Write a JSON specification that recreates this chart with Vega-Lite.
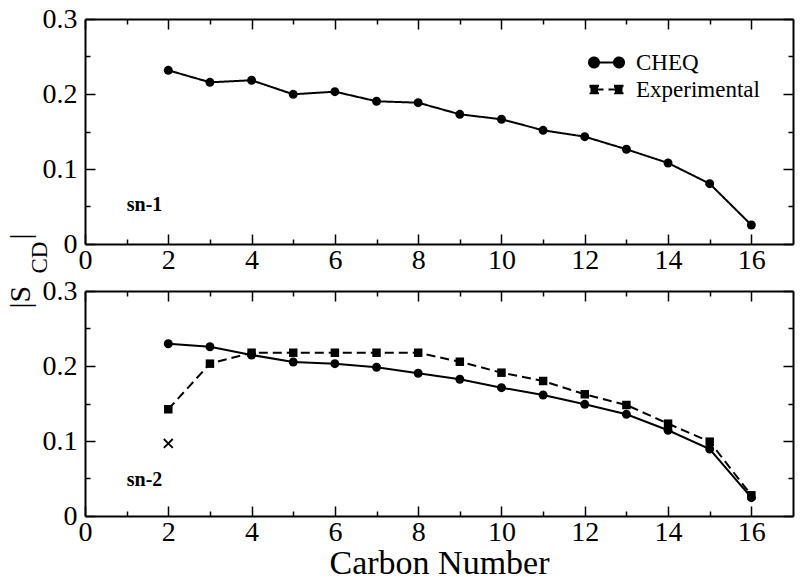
{
  "$schema": "https://vega.github.io/schema/vega-lite/v6.json",
  "background": "white",
  "padding": 5,
  "config": {
    "view": {"stroke": null},
    "font": "Liberation Serif",
    "axis": {
      "grid": false,
      "domainColor": "black",
      "domainWidth": 2,
      "tickColor": "black",
      "tickWidth": 1.5,
      "labelFont": "Liberation Serif",
      "labelFontSize": 28,
      "labelColor": "black",
      "labelFlush": false,
      "labelOverlap": false,
      "labelPadding": 16,
      "titleFont": "Liberation Serif",
      "titleColor": "black",
      "titleFontWeight": "normal"
    }
  },
  "datasets": {
    "sn1": [
      {"series": "CHEQ", "carbon": 2, "s": 0.2316},
      {"series": "CHEQ", "carbon": 3, "s": 0.2156},
      {"series": "CHEQ", "carbon": 4, "s": 0.2183},
      {"series": "CHEQ", "carbon": 5, "s": 0.1996},
      {"series": "CHEQ", "carbon": 6, "s": 0.2031},
      {"series": "CHEQ", "carbon": 7, "s": 0.1903},
      {"series": "CHEQ", "carbon": 8, "s": 0.1884},
      {"series": "CHEQ", "carbon": 9, "s": 0.1729},
      {"series": "CHEQ", "carbon": 10, "s": 0.1663},
      {"series": "CHEQ", "carbon": 11, "s": 0.1516},
      {"series": "CHEQ", "carbon": 12, "s": 0.1431},
      {"series": "CHEQ", "carbon": 13, "s": 0.1263},
      {"series": "CHEQ", "carbon": 14, "s": 0.108},
      {"series": "CHEQ", "carbon": 15, "s": 0.0804},
      {"series": "CHEQ", "carbon": 16, "s": 0.0253}
    ],
    "sn2": [
      {"series": "CHEQ", "carbon": 2, "s": 0.2297},
      {"series": "CHEQ", "carbon": 3, "s": 0.2257},
      {"series": "CHEQ", "carbon": 4, "s": 0.2147},
      {"series": "CHEQ", "carbon": 5, "s": 0.2053},
      {"series": "CHEQ", "carbon": 6, "s": 0.2031},
      {"series": "CHEQ", "carbon": 7, "s": 0.1983},
      {"series": "CHEQ", "carbon": 8, "s": 0.1903},
      {"series": "CHEQ", "carbon": 9, "s": 0.1823},
      {"series": "CHEQ", "carbon": 10, "s": 0.1711},
      {"series": "CHEQ", "carbon": 11, "s": 0.1613},
      {"series": "CHEQ", "carbon": 12, "s": 0.1489},
      {"series": "CHEQ", "carbon": 13, "s": 0.1356},
      {"series": "CHEQ", "carbon": 14, "s": 0.1143},
      {"series": "CHEQ", "carbon": 15, "s": 0.0893},
      {"series": "CHEQ", "carbon": 16, "s": 0.0244},
      {"series": "Experimental", "carbon": 2, "s": 0.1423},
      {"series": "Experimental", "carbon": 3, "s": 0.2031},
      {"series": "Experimental", "carbon": 4, "s": 0.2177},
      {"series": "Experimental", "carbon": 5, "s": 0.2177},
      {"series": "Experimental", "carbon": 6, "s": 0.2177},
      {"series": "Experimental", "carbon": 7, "s": 0.2177},
      {"series": "Experimental", "carbon": 8, "s": 0.2177},
      {"series": "Experimental", "carbon": 9, "s": 0.2057},
      {"series": "Experimental", "carbon": 10, "s": 0.1911},
      {"series": "Experimental", "carbon": 11, "s": 0.18},
      {"series": "Experimental", "carbon": 12, "s": 0.1623},
      {"series": "Experimental", "carbon": 13, "s": 0.148},
      {"series": "Experimental", "carbon": 14, "s": 0.1231},
      {"series": "Experimental", "carbon": 15, "s": 0.0991},
      {"series": "Experimental", "carbon": 16, "s": 0.0276},
      {"series": "Experimental C2 second deuteron", "carbon": 2, "s": 0.0967}
    ]
  },
  "spacing": 47,
  "bounds": "flush",
  "vconcat": [
    {
      "width": 708,
      "height": 225,
      "data": {"name": "sn1"},
      "resolve": {"axis": {"x": "independent", "y": "independent"}},
      "layer": [
        {
          "mark": {"type": "line", "color": "black", "strokeWidth": 2},
          "encoding": {
            "x": {"field": "carbon", "type": "quantitative", "scale": {"domain": [0, 17], "nice": false},
              "axis": {"orient": "bottom", "values": [0,1,2,3,4,5,6,7,8,9,10,11,12,13,14,15,16],
                "tickSize": {"condition": {"test": "datum.value % 2 === 0", "value": -10}, "value": -5},
                "labelExpr": "datum.value % 2 === 0 ? datum.label : ''",
                "labelFont": "Liberation Serif", "labelFontSize": 28, "labelColor": "black", "labelPadding": 12,
                "title": "|", "titleFont": "Liberation Serif", "titleFontSize": 30, "titleAngle": 270, "titleAlign": "left", "titleBaseline": "alphabetic",
                "titleX": -56, "titleY": -5}},
            "y": {"field": "s", "type": "quantitative", "scale": {"domain": [0, 0.3], "nice": false},
              "axis": {"orient": "left", "values": [0, 0.05, 0.1, 0.15, 0.2, 0.25, 0.3],
                "tickSize": {"condition": {"test": "round(datum.value * 100) % 10 === 0", "value": -10}, "value": -5},
                "labelExpr": "round(datum.value * 100) % 10 === 0 ? (datum.value === 0 ? '0' : format(datum.value, '.1f')) : ''",
                "labelFont": "Liberation Serif", "labelFontSize": 28, "labelColor": "black", "labelPadding": 18,
                "title": "|S", "titleFont": "Liberation Serif", "titleFontSize": 30, "titleAngle": 270, "titleAlign": "left", "titleBaseline": "alphabetic",
                "titleX": -56, "titleY": 289}},
            "strokeDash": {"field": "series", "type": "nominal",
              "scale": {"domain": ["CHEQ", "Experimental"], "range": [[1, 0], [9, 5]]},
              "legend": {"orient": "none", "legendX": 510, "legendY": 32, "title": null, "padding": 0,
                "labelFont": "Liberation Serif", "labelFontSize": 23, "labelColor": "black", "labelOffset": 18,
                "rowPadding": 3, "symbolSize": 100, "symbolStrokeWidth": 2, "symbolFillColor": "black", "symbolStrokeColor": "black",
                "encode": {"symbols": {"update": {
                  "shape": {"signal": "datum.value === 'CHEQ' ? 'M-3.5,0A1,1,0,1,1,-1.5,0A1,1,0,1,1,-3.5,0Z M1.5,0A1,1,0,1,1,3.5,0A1,1,0,1,1,1.5,0Z M-2.5,0L2.5,0' : 'M-3.2,-0.75L-1.7,-0.75L-1.7,0.75L-3.2,0.75Z M1.7,-0.75L3.2,-0.75L3.2,0.75L1.7,0.75Z M-1.7,0L-0.6,0 M0.4,0L1.7,0'"},
                  "fill": {"value": "black"},
                  "stroke": {"value": "black"},
                  "strokeWidth": {"value": 2},
                  "size": {"value": 100},
                  "opacity": {"value": 1}
                }}}
              }
            }
          }
        },
        {
          "mark": {"type": "point", "shape": "circle", "filled": true, "color": "black", "size": 80, "opacity": 1},
          "encoding": {
            "x": {"field": "carbon", "type": "quantitative", "axis": null},
            "y": {"field": "s", "type": "quantitative", "axis": null}
          }
        },
        {
          "data": {"values": [{"label": "sn-1"}]},
          "mark": {"type": "text", "font": "Liberation Serif", "fontWeight": "bold", "fontSize": 20, "color": "black", "align": "center", "baseline": "alphabetic"},
          "encoding": {
            "text": {"field": "label"},
            "x": {"datum": 1.43, "type": "quantitative",
              "axis": {"orient": "top", "values": [0,1,2,3,4,5,6,7,8,9,10,11,12,13,14,15,16],
                "tickSize": {"condition": {"test": "datum.value % 2 === 0", "value": -10}, "value": -5},
                "labels": false, "title": null}},
            "y": {"datum": 0.044, "type": "quantitative",
              "axis": {"orient": "right", "values": [0, 0.05, 0.1, 0.15, 0.2, 0.25, 0.3],
                "tickSize": {"condition": {"test": "round(datum.value * 100) % 10 === 0", "value": -10}, "value": -5},
                "labels": false, "title": null}}
          }
        }
      ]
    },
    {
      "width": 708,
      "height": 225,
      "data": {"name": "sn2"},
      "resolve": {"axis": {"x": "independent", "y": "independent"}},
      "layer": [
        {
          "transform": [{"filter": "datum.series === 'Experimental'"}],
          "mark": {"type": "line", "color": "black", "strokeWidth": 2, "strokeDash": [9, 5]},
          "encoding": {
            "x": {"field": "carbon", "type": "quantitative", "scale": {"domain": [0, 17], "nice": false},
              "axis": {"orient": "bottom", "values": [0,1,2,3,4,5,6,7,8,9,10,11,12,13,14,15,16],
                "tickSize": {"condition": {"test": "datum.value % 2 === 0", "value": -10}, "value": -5},
                "labelExpr": "datum.value % 2 === 0 ? datum.label : ''",
                "labelFont": "Liberation Serif", "labelFontSize": 28, "labelColor": "black", "labelPadding": 12,
                "title": "Carbon Number", "titleFont": "Liberation Serif", "titleFontSize": 34, "titleAngle": 0, "titleAlign": "center", "titleBaseline": "alphabetic",
                "titleX": 354, "titleY": 57}},
            "y": {"field": "s", "type": "quantitative", "scale": {"domain": [0, 0.3], "nice": false},
              "axis": {"orient": "left", "values": [0, 0.05, 0.1, 0.15, 0.2, 0.25, 0.3],
                "tickSize": {"condition": {"test": "round(datum.value * 100) % 10 === 0", "value": -10}, "value": -5},
                "labelExpr": "round(datum.value * 100) % 10 === 0 ? (datum.value === 0 ? '0' : format(datum.value, '.1f')) : ''",
                "labelFont": "Liberation Serif", "labelFontSize": 28, "labelColor": "black", "labelPadding": 18,
                "title": "CD", "titleFont": "Liberation Serif", "titleFontSize": 23, "titleAngle": 270, "titleAlign": "left", "titleBaseline": "alphabetic",
                "titleX": -38.5, "titleY": -18}}
          }
        },
        {
          "transform": [{"filter": "datum.series === 'Experimental'"}],
          "mark": {"type": "point", "shape": "square", "filled": true, "color": "black", "size": 72, "opacity": 1},
          "encoding": {
            "x": {"field": "carbon", "type": "quantitative", "axis": null},
            "y": {"field": "s", "type": "quantitative", "axis": null}
          }
        },
        {
          "transform": [{"filter": "datum.series === 'CHEQ'"}],
          "mark": {"type": "line", "color": "black", "strokeWidth": 2},
          "encoding": {
            "x": {"field": "carbon", "type": "quantitative", "axis": null},
            "y": {"field": "s", "type": "quantitative", "axis": null}
          }
        },
        {
          "transform": [{"filter": "datum.series === 'CHEQ'"}],
          "mark": {"type": "point", "shape": "circle", "filled": true, "color": "black", "size": 80, "opacity": 1},
          "encoding": {
            "x": {"field": "carbon", "type": "quantitative", "axis": null},
            "y": {"field": "s", "type": "quantitative", "axis": null}
          }
        },
        {
          "transform": [{"filter": "datum.series === 'Experimental C2 second deuteron'"}],
          "mark": {"type": "point", "shape": "M-1,-1L1,1M-1,1L1,-1", "filled": false, "color": "black", "strokeWidth": 1.8, "size": 80, "opacity": 1},
          "encoding": {
            "x": {"field": "carbon", "type": "quantitative", "axis": null},
            "y": {"field": "s", "type": "quantitative", "axis": null}
          }
        },
        {
          "data": {"values": [{"label": "sn-2"}]},
          "mark": {"type": "text", "font": "Liberation Serif", "fontWeight": "bold", "fontSize": 20, "color": "black", "align": "center", "baseline": "alphabetic"},
          "encoding": {
            "text": {"field": "label"},
            "x": {"datum": 1.43, "type": "quantitative",
              "axis": {"orient": "top", "values": [0,1,2,3,4,5,6,7,8,9,10,11,12,13,14,15,16],
                "tickSize": {"condition": {"test": "datum.value % 2 === 0", "value": -10}, "value": -5},
                "labels": false, "title": null}},
            "y": {"datum": 0.04, "type": "quantitative",
              "axis": {"orient": "right", "values": [0, 0.05, 0.1, 0.15, 0.2, 0.25, 0.3],
                "tickSize": {"condition": {"test": "round(datum.value * 100) % 10 === 0", "value": -10}, "value": -5},
                "labels": false, "title": null}}
          }
        }
      ]
    }
  ]
}
